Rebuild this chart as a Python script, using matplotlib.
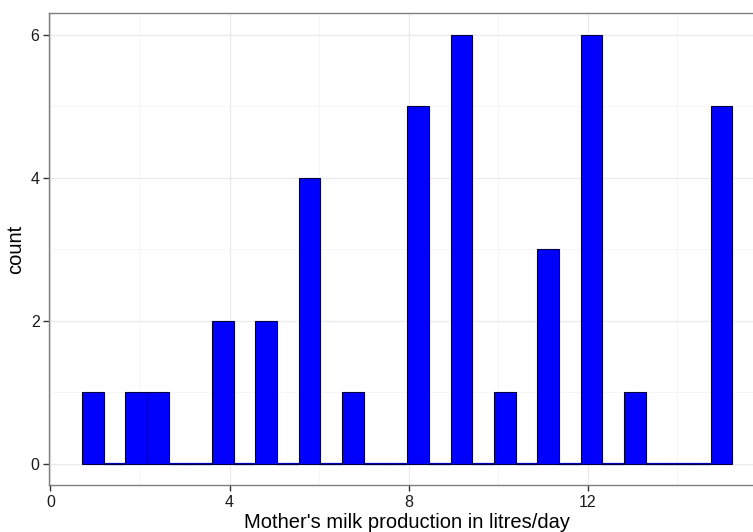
import matplotlib
matplotlib.use("Agg")
import matplotlib.pyplot as plt
import numpy as np

# histogram bins (30 bins, ggplot default)
bin_start = 0.70
bin_width = 0.4845
counts = [1, 0, 1, 1, 0, 0, 2, 0, 2, 0,
          4, 0, 1, 0, 0, 5, 0, 6, 0, 1,
          0, 3, 0, 6, 0, 1, 0, 0, 0, 5]
x_major = [0, 4, 8, 12]
x_minor = [2, 6, 10, 14]
y_major = [0, 2, 4, 6]
y_minor = [1, 3, 5]

plt.rcParams["font.family"] = ["Liberation Sans", "DejaVu Sans"]

fig = plt.figure(figsize=(7.53, 5.32), dpi=100)
W, H = 753, 532
# panel runs past the right edge of the image, as in the reference
px_l, px_r, px_t, px_b = 49.3, 765.0, 13.3, 485.0
ax = fig.add_axes([px_l / W, 1 - px_b / H, (px_r - px_l) / W, (px_b - px_t) / H])

lefts = bin_start + bin_width * np.arange(len(counts))
ax.bar(lefts, counts, width=bin_width, align="edge", color="#0000ff",
       edgecolor="#000040", linewidth=0.8, zorder=3)
# empty bins show up as a flat blue line along zero
empty = [l for l, c in zip(lefts, counts) if c == 0]
for l in empty:
    ax.plot([l, l + bin_width], [0, 0], color="#0000c0", lw=1.6,
            solid_capstyle="butt", zorder=2.5)

lo, hi = lefts[0], lefts[-1] + bin_width
pad = 0.05 * (hi - lo)
ax.set_xlim(lo - pad, hi + pad)
ax.set_ylim(-0.3, 6.3)

ax.set_xticks(x_major)
ax.set_xticks(x_minor, minor=True)
ax.set_yticks(y_major)
ax.set_yticks(y_minor, minor=True)
ax.grid(which="major", color="#ebebeb", linewidth=1.0, zorder=0)
ax.grid(which="minor", color="#f5f5f5", linewidth=0.6, zorder=0)
ax.set_axisbelow(True)

ax.tick_params(which="major", length=4, width=1, color="#333333",
               labelsize=11.5, labelcolor="#1a1a1a", pad=3)
ax.tick_params(which="minor", length=0)
for s in ax.spines.values():
    s.set_color("#7f7f7f")
    s.set_linewidth(1.0)

ax.set_xlabel("Mother's milk production in litres/day", fontsize=14.5, labelpad=2)
ax.set_ylabel("count", fontsize=14.5, labelpad=4)

plt.savefig("out.png", dpi=100, facecolor="white")
